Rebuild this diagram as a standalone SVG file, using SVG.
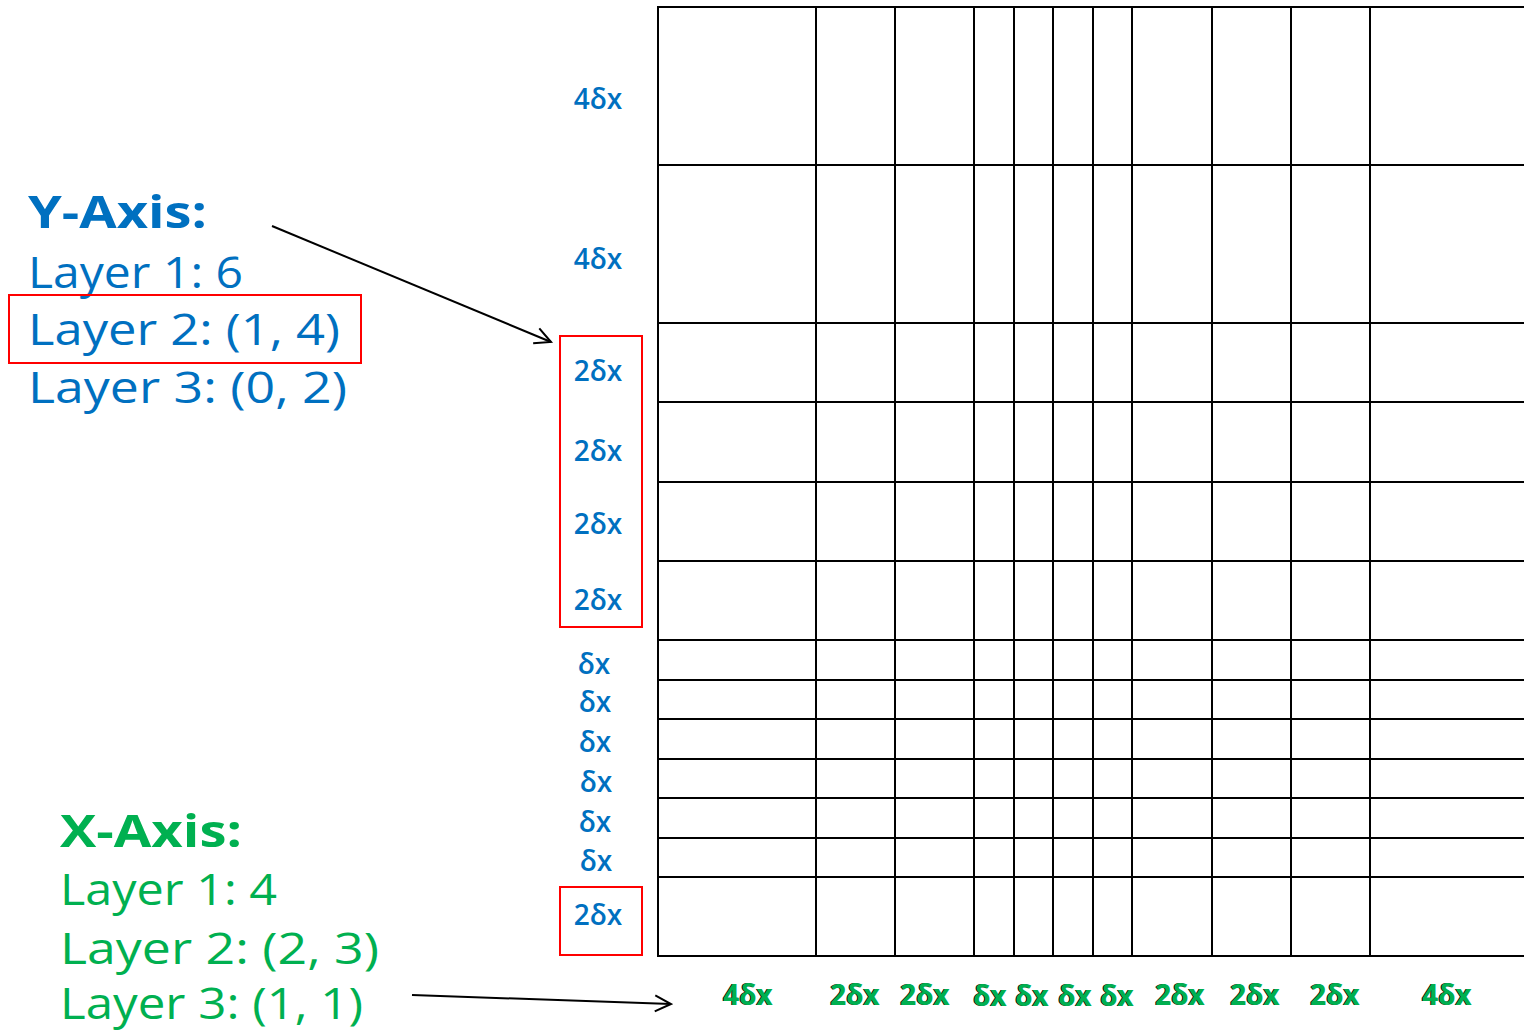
<svg xmlns="http://www.w3.org/2000/svg" width="1524" height="1031" viewBox="0 0 1524 1031">
<style>
.bg{fill:#ffffff}
.grid line{stroke:#000;stroke-width:2}
.blue{fill:#0070C0;font-family:"Open Sans","Noto Sans",sans-serif}
.green{fill:#00B050;font-family:"Open Sans","Noto Sans",sans-serif}
.big{font-size:44px}
.head{font-size:44px;font-weight:bold}
.lab{font-size:28px;text-anchor:middle;font-weight:600}
.xl{font-size:28px;text-anchor:middle;font-weight:bold}
.xs{fill:#000;font-family:"Open Sans","Noto Sans",sans-serif}
.red{fill:none;stroke:#FF0000;stroke-width:2}
.arr{fill:none;stroke:#000;stroke-width:2}
</style>
<defs>
<marker id="ah" viewBox="0 0 20 20" refX="18" refY="10" markerWidth="20" markerHeight="20" markerUnits="userSpaceOnUse" orient="auto">
<path d="M2,2 L18,10 L2,18" fill="none" stroke="#000" stroke-width="2"/>
</marker>
</defs>
<rect class="bg" x="0" y="0" width="1524" height="1031"/>
<g id="grid" class="grid">
<line x1="658" y1="7" x2="658" y2="957"/>
<line x1="816" y1="7" x2="816" y2="957"/>
<line x1="895" y1="7" x2="895" y2="957"/>
<line x1="974" y1="7" x2="974" y2="957"/>
<line x1="1014" y1="7" x2="1014" y2="957"/>
<line x1="1053" y1="7" x2="1053" y2="957"/>
<line x1="1093" y1="7" x2="1093" y2="957"/>
<line x1="1132" y1="7" x2="1132" y2="957"/>
<line x1="1212" y1="7" x2="1212" y2="957"/>
<line x1="1291" y1="7" x2="1291" y2="957"/>
<line x1="1370" y1="7" x2="1370" y2="957"/>
<line x1="657" y1="7" x2="1524" y2="7"/>
<line x1="657" y1="165" x2="1524" y2="165"/>
<line x1="657" y1="323" x2="1524" y2="323"/>
<line x1="657" y1="402" x2="1524" y2="402"/>
<line x1="657" y1="482" x2="1524" y2="482"/>
<line x1="657" y1="561" x2="1524" y2="561"/>
<line x1="657" y1="640" x2="1524" y2="640"/>
<line x1="657" y1="680" x2="1524" y2="680"/>
<line x1="657" y1="719" x2="1524" y2="719"/>
<line x1="657" y1="759" x2="1524" y2="759"/>
<line x1="657" y1="798" x2="1524" y2="798"/>
<line x1="657" y1="838" x2="1524" y2="838"/>
<line x1="657" y1="877" x2="1524" y2="877"/>
<line x1="657" y1="956" x2="1524" y2="956"/>
</g>
<g id="y-axis-legend">
<text class="blue head" x="28" y="228" textLength="179" lengthAdjust="spacingAndGlyphs">Y-Axis:</text>
<text class="blue big" x="28" y="288" textLength="215" lengthAdjust="spacingAndGlyphs">Layer 1: 6</text>
<text class="blue big" x="28" y="345" textLength="312" lengthAdjust="spacingAndGlyphs">Layer 2: (1, 4)</text>
<text class="blue big" x="28" y="403" textLength="319" lengthAdjust="spacingAndGlyphs">Layer 3: (0, 2)</text>
<rect class="red" x="9" y="295" width="352" height="68"/>
</g>
<g id="x-axis-legend">
<text class="green head" x="60" y="847" textLength="182" lengthAdjust="spacingAndGlyphs">X-Axis:</text>
<text class="green big" x="60" y="905" textLength="217" lengthAdjust="spacingAndGlyphs">Layer 1: 4</text>
<text class="green big" x="60" y="964" textLength="319" lengthAdjust="spacingAndGlyphs">Layer 2: (2, 3)</text>
<text class="green big" x="60" y="1019" font-size="42" textLength="303" lengthAdjust="spacingAndGlyphs">Layer 3: (1, 1)</text>
</g>
<g id="y-labels">
<text class="blue lab" x="598" y="109">4δx</text>
<text class="blue lab" x="598" y="269">4δx</text>
<text class="blue lab" x="598" y="381">2δx</text>
<text class="blue lab" x="598" y="461">2δx</text>
<text class="blue lab" x="598" y="534">2δx</text>
<text class="blue lab" x="598" y="610">2δx</text>
<text class="blue lab" x="594" y="674">δx</text>
<text class="blue lab" x="595" y="712">δx</text>
<text class="blue lab" x="595" y="752">δx</text>
<text class="blue lab" x="596" y="792">δx</text>
<text class="blue lab" x="595" y="832">δx</text>
<text class="blue lab" x="596" y="871">δx</text>
<text class="blue lab" x="598" y="925">2δx</text>
<rect class="red" x="560" y="336" width="82" height="291"/>
<rect class="red" x="560" y="887" width="82" height="68"/>
</g>
<g id="x-labels">
<g class="xs xl" transform="translate(-1,0)">
<text x="748" y="1005">4δx</text>
<text x="855" y="1005">2δx</text>
<text x="925" y="1005">2δx</text>
<text x="990" y="1006">δx</text>
<text x="1032" y="1006">δx</text>
<text x="1075" y="1006">δx</text>
<text x="1117" y="1006">δx</text>
<text x="1180" y="1005">2δx</text>
<text x="1255" y="1005">2δx</text>
<text x="1335" y="1005">2δx</text>
<text x="1447" y="1005">4δx</text>
</g>
<g class="green xl">
<text x="748" y="1005">4δx</text>
<text x="855" y="1005">2δx</text>
<text x="925" y="1005">2δx</text>
<text x="990" y="1006">δx</text>
<text x="1032" y="1006">δx</text>
<text x="1075" y="1006">δx</text>
<text x="1117" y="1006">δx</text>
<text x="1180" y="1005">2δx</text>
<text x="1255" y="1005">2δx</text>
<text x="1335" y="1005">2δx</text>
<text x="1447" y="1005">4δx</text>
</g>
</g>
<g id="connectors">
<line class="arr" x1="272" y1="226" x2="551" y2="342" marker-end="url(#ah)"/>
<line class="arr" x1="412" y1="995" x2="671" y2="1004" marker-end="url(#ah)"/>
</g>
</svg>
